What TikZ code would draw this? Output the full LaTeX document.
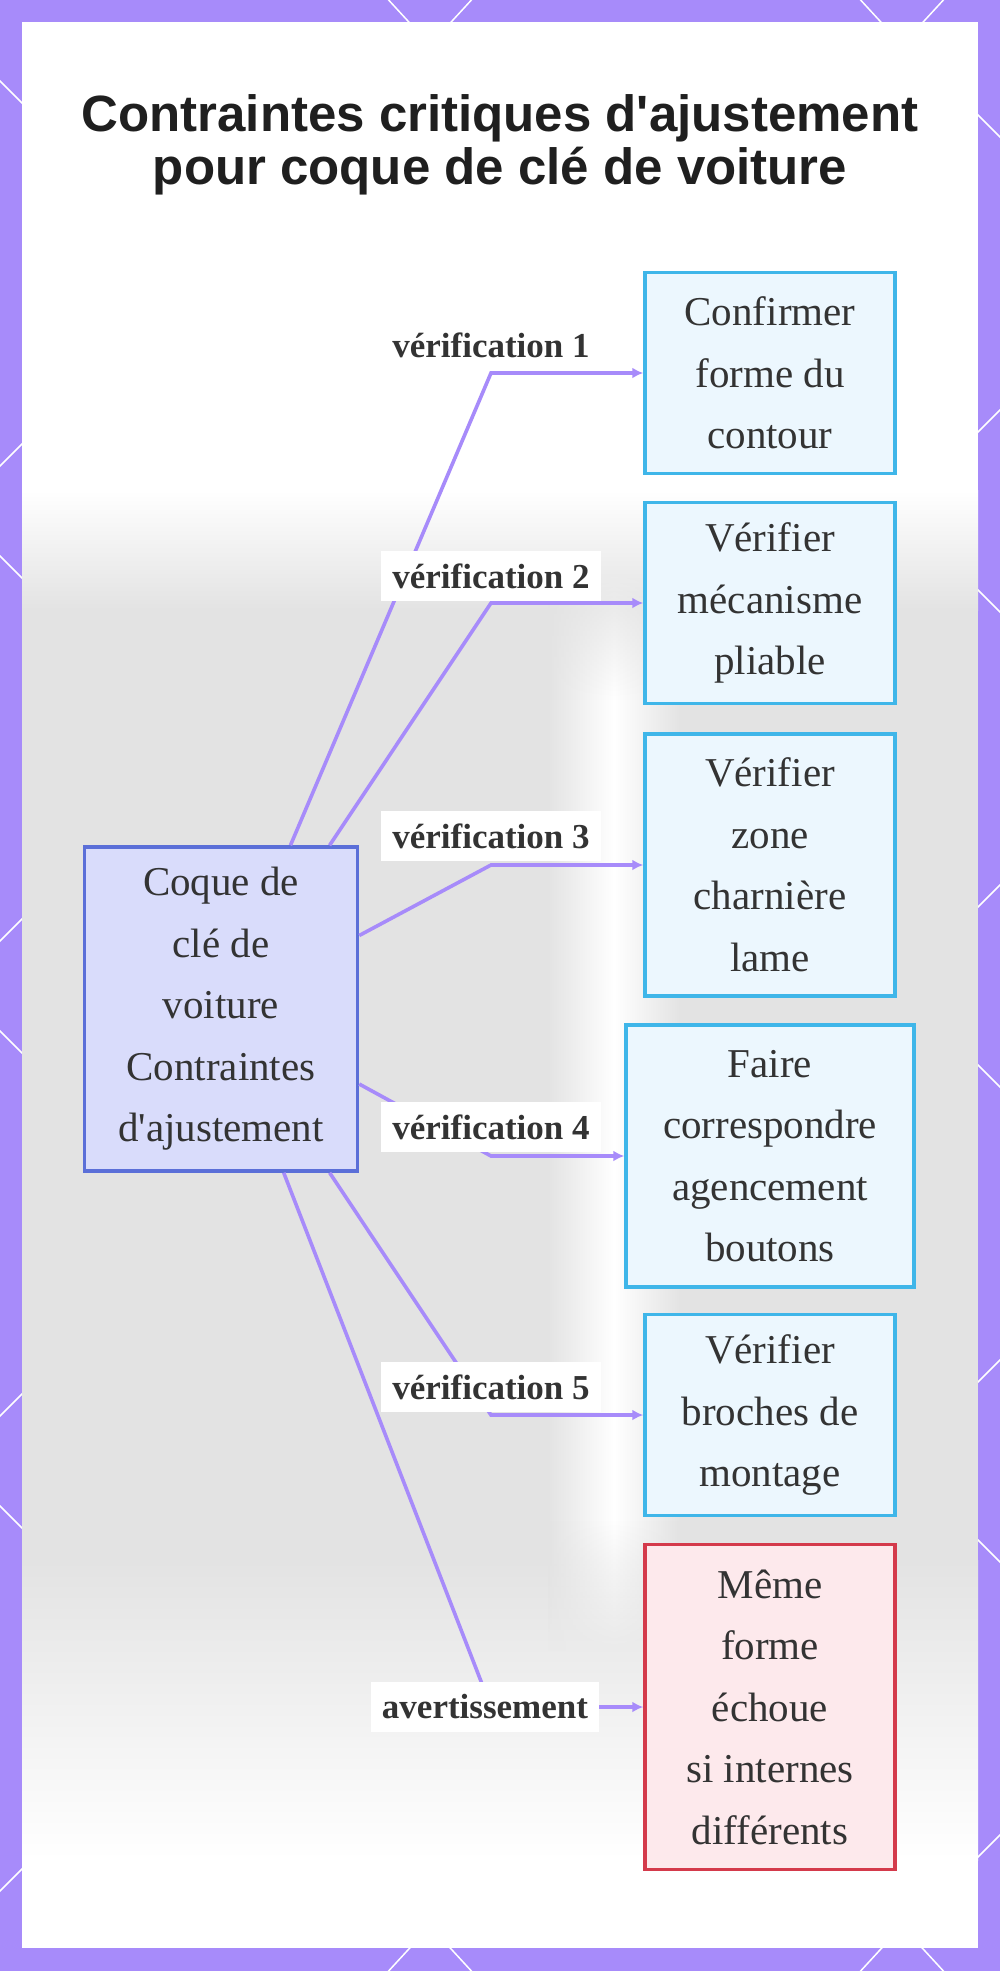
\documentclass[tikz,border=0pt]{standalone}
\usepackage{fontspec}
\setmainfont{Liberation Serif}[Ligatures=TeXOff]
\newfontfamily\titlefont{Liberation Sans}[Ligatures=TeXOff]
\usepackage{tikz}
\usetikzlibrary{arrows.meta, positioning, calc, fadings}
\definecolor{framepurple}{HTML}{A78BFA}
\definecolor{linkpurple}{HTML}{A78BFA}
\definecolor{checkfill}{HTML}{ECF7FE}
\definecolor{checkdraw}{HTML}{3FB6E9}
\definecolor{hubfill}{HTML}{D9DCFB}
\definecolor{hubdraw}{HTML}{5B6FD8}
\definecolor{warnfill}{HTML}{FDE9EC}
\definecolor{warndraw}{HTML}{D43A4B}
\definecolor{textdark}{HTML}{333333}
\definecolor{titledark}{HTML}{1F1F1F}
\definecolor{keygray}{HTML}{E3E3E3}
\tikzset{
    checkbox/.style={
        rectangle,
        draw=checkdraw,
        line width=3.5pt,
        fill=checkfill,
        align=center,
        text=textdark,
        minimum width=250pt,
        font=\fontsize{41}{61.5}\selectfont
    },
    hubbox/.style={
        checkbox,
        draw=hubdraw,
        fill=hubfill,
        minimum width=273pt
    },
    warnbox/.style={
        checkbox,
        draw=warndraw,
        fill=warnfill
    },
    edgelabel/.style={
        fill=white,
        text=textdark,
        inner xsep=11pt,
        minimum height=50pt,
        font=\fontsize{35}{40}\selectfont\bfseries
    },
    link/.style={
        draw=linkpurple,
        line width=3.6pt,
        -{Latex[length=11pt, width=11pt]}
    },
    frameline/.style={
        draw=white,
        line width=1.5pt
    },
    glow/.style={
        left color=keygray,
        right color=keygray,
        middle color=white
    }
}

\begin{document}
\begin{tikzpicture}[x=1pt, y=-1pt]
\useasboundingbox (0,0) rectangle (1000,1971);

% Frame with pattern
\fill[framepurple] (0,0) rectangle (1000,1971);
\draw[frameline] (384,-5) -- (430,45) -- (476,-5);
\draw[frameline] (856,-5) -- (902,45) -- (948,-5);
\draw[frameline] (384,1976) -- (430,1926) -- (476,1976);
\draw[frameline] (856,1976) -- (902,1926) -- (948,1976);
\foreach \v in {36,511,986,1461,1936} {
    \draw[frameline] (45,\v-90) -- (-45,\v) -- (45,\v+90);
}
\foreach \v in {511,986,1461} {
    \draw[frameline] (1010,\v-111) -- (899,\v) -- (1010,\v+111);
}
\draw[frameline] (899,36) -- (1010,147);
\draw[frameline] (899,1936) -- (1010,1825);
\fill[white] (22,22) rectangle (978,1948);

% Faded key photo behind
\shade[top color=white, bottom color=keygray] (22,490) rectangle (978,610);
\fill[keygray] (22,610) rectangle (978,1560);
\shade[top color=keygray, bottom color=white] (22,1560) rectangle (978,1860);
\shade[glow, path fading=north] (548,570) rectangle (680,700);
\shade[glow] (548,700) rectangle (680,1520);
\shade[glow, path fading=south] (548,1520) rectangle (680,1650);

% Title
\node[font=\titlefont\bfseries\fontsize{51}{53}\selectfont, align=center, text=titledark] (title) at (500,145)
    {Contraintes critiques d'ajustement\\pour coque de clé de voiture};

% Hub
\node[hubbox, minimum height=324pt] (hub) at (221,1009)
    {Coque de\\clé de\\voiture\\Contraintes\\d'ajustement};

% Checks
\node[checkbox, minimum height=201pt] (chk1) at (770,373) {Confirmer\\forme du\\contour};
\node[checkbox, minimum height=201pt] (chk2) at (770,603) {Vérifier\\mécanisme\\pliable};
\node[checkbox, minimum height=262pt] (chk3) at (770,865) {Vérifier\\zone\\charnière\\lame};
\node[checkbox, minimum height=262pt, minimum width=288pt] (chk4) at (770,1156) {Faire\\correspondre\\agencement\\boutons};
\node[checkbox, minimum height=201pt] (chk5) at (770,1415) {Vérifier\\broches de\\montage};
\node[warnbox, minimum height=325pt] (warn) at (770,1707) {Même\\forme\\échoue\\si internes\\différents};

% Bends
\coordinate (k1) at (491,373);
\coordinate (k2) at (491,603);
\coordinate (k3) at (491,865);
\coordinate (k4) at (491,1156);
\coordinate (k5) at (491,1415);
\coordinate (k6) at (491,1707);

\draw[link] (hub) -- (k1) -- (chk1);
\draw[link] (hub) -- (k2) -- (chk2);
\draw[link] (hub) -- (k3) -- (chk3);
\draw[link] (hub) -- (k4) -- (chk4);
\draw[link] (hub) -- (k5) -- (chk5);
\draw[link] (hub) -- (k6) -- (warn);

% Labels
\node[edgelabel] (lbl1) at (491,345) {vérification 1};
\node[edgelabel] (lbl2) at (491,576) {vérification 2};
\node[edgelabel] (lbl3) at (491,836) {vérification 3};
\node[edgelabel] (lbl4) at (491,1127) {vérification 4};
\node[edgelabel] (lbl5) at (491,1387) {vérification 5};
\node[edgelabel] (lbl6) at (485,1707) {avertissement};

\end{tikzpicture}
\end{document}
